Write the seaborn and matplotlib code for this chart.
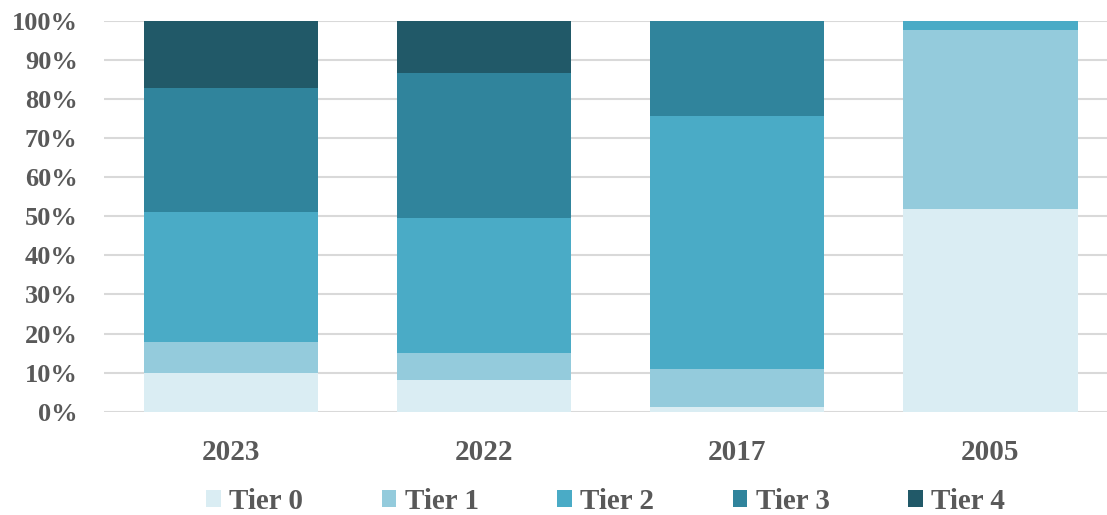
import numpy as np
import pandas as pd
import matplotlib
matplotlib.use('Agg')
import matplotlib.pyplot as plt
import seaborn as sns
from matplotlib.patches import Patch
from matplotlib.ticker import PercentFormatter

# Share of each tier per year (percent)
years = ['2023', '2022', '2017', '2005']
tier_names = ['Tier 0', 'Tier 1', 'Tier 2', 'Tier 3', 'Tier 4']
tier0 = [10.0, 8.1, 1.1, 51.9]
tier1 = [7.9, 7.0, 9.8, 45.9]
tier2 = [33.1, 34.4, 64.9, 2.2]
tier3 = [31.8, 37.3, 24.2, 0.0]
tier4 = [17.2, 13.2, 0.0, 0.0]
tier_colors = ['#DAEDF3', '#94CBDC', '#4AABC6', '#30849C', '#215968']

sns.set_theme(style='white')
plt.rcParams['font.family'] = ['Liberation Serif', 'DejaVu Serif']
text_color = '#595959'

df = pd.DataFrame({'year': years, 'Tier 0': tier0, 'Tier 1': tier1,
                   'Tier 2': tier2, 'Tier 3': tier3, 'Tier 4': tier4})
cum = df[tier_names].cumsum(axis=1)
cum['year'] = df['year']

fig = plt.figure(figsize=(11.07, 5.15), dpi=100)
ax = fig.add_axes([0.094, 0.2006, 0.906, 0.7586])

# draw cumulative totals from the top tier down so each stack shows through
for name, color in reversed(list(zip(tier_names, tier_colors))):
    sns.barplot(data=cum, x='year', y=name, color=color, width=0.688,
                saturation=1, linewidth=0, ax=ax, zorder=3)

ax.set_ylim(0, 100)
ax.set_xlim(-0.5, 3.46)
ax.set_yticks(np.arange(0, 101, 10))
ax.yaxis.set_major_formatter(PercentFormatter(decimals=0))
ax.grid(axis='y', color='#D9D9D9', linewidth=1.5, zorder=0)
ax.set_xlabel('')
ax.set_ylabel('')
sns.despine(ax=ax, left=True, bottom=True)
ax.tick_params(axis='both', length=0, colors=text_color)
ax.tick_params(axis='y', pad=19)
ax.tick_params(axis='x', pad=20)
for lbl in ax.get_yticklabels():
    lbl.set_fontsize(19)
    lbl.set_fontweight('bold')
    lbl.set_horizontalalignment('right')
for lbl in ax.get_xticklabels():
    lbl.set_fontsize(21)
    lbl.set_fontweight('bold')

handles = [Patch(facecolor=c, edgecolor='none') for c in tier_colors]
leg = fig.legend(handles, tier_names, loc='center', ncol=5,
                 bbox_to_anchor=(0.547, 0.027), frameon=False,
                 handlelength=0.5, handleheight=0.5, handletextpad=0.28,
                 columnspacing=2.7, borderpad=0,
                 prop={'size': 21, 'weight': 'bold'})
for t in leg.get_texts():
    t.set_color(text_color)

fig.savefig('out.png', dpi=100)
